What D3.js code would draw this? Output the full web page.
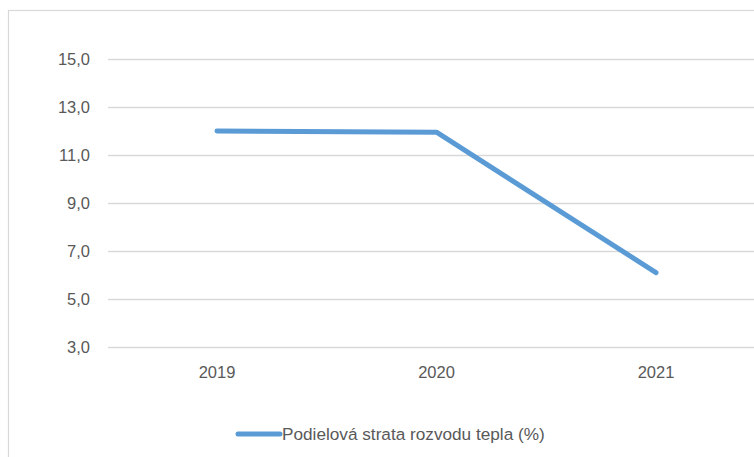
<!DOCTYPE html>
<html><head><meta charset="utf-8">
<script src="https://cdn.jsdelivr.net/npm/d3@7"></script>
<style>
html,body{margin:0;padding:0;background:#fff;}
text{font-family:"Liberation Sans",Arial,sans-serif;}
</style></head>
<body>
<svg id="c" width="754" height="457"></svg>
<script>
const categories = ["2019", "2020", "2021"];
const values = [12.0, 11.95, 6.1];
const yTicks = [3, 5, 7, 9, 11, 13, 15];
const seriesName = "Podielová strata rozvodu tepla (%)";

const svg = d3.select("#c");

// chart frame
svg.append("rect").attr("x", 8.5).attr("y", 10.5).attr("width", 800).attr("height", 500)
  .attr("fill", "#fff").attr("stroke", "#d9d9d9").attr("stroke-width", 1.2);

const plotL = 108, plotR = 764, plotT = 59, plotB = 347;
const x = d3.scalePoint().domain(categories).range([217, 656]);
const y = d3.scaleLinear().domain([3, 15]).range([plotB, plotT]);

// gridlines
svg.append("g").selectAll("line").data(yTicks).join("line")
  .attr("x1", plotL).attr("x2", plotR)
  .attr("y1", d => Math.round(y(d)) + 0.5).attr("y2", d => Math.round(y(d)) + 0.5)
  .attr("stroke", "#d9d9d9").attr("stroke-width", 1.3);

// y labels
const fmt = d => d3.format(".1f")(d).replace(".", ",");
svg.append("g").selectAll("text").data(yTicks).join("text")
  .attr("x", 90).attr("y", d => y(d)).attr("dy", "0.35em")
  .attr("text-anchor", "end").attr("font-size", 16.5).attr("fill", "#595959")
  .text(fmt);

// x labels
svg.append("g").selectAll("text").data(categories).join("text")
  .attr("x", d => x(d)).attr("y", 372).attr("dy", "0.35em")
  .attr("text-anchor", "middle").attr("font-size", 16.5).attr("fill", "#595959")
  .text(d => d);

// line
const line = d3.line().x((d, i) => x(categories[i])).y(d => y(d));
svg.append("path").datum(values).attr("d", line)
  .attr("fill", "none").attr("stroke", "#5b9bd5").attr("stroke-width", 5)
  .attr("stroke-linecap", "round").attr("stroke-linejoin", "round");

// legend
const lg = svg.append("g");
lg.append("line").attr("x1", 238).attr("x2", 280).attr("y1", 434).attr("y2", 434)
  .attr("stroke", "#5b9bd5").attr("stroke-width", 5).attr("stroke-linecap", "round");
lg.append("text").attr("x", 282).attr("y", 434).attr("dy", "0.35em")
  .attr("font-size", 17.2).attr("fill", "#595959").text(seriesName);
</script>
</body></html>
